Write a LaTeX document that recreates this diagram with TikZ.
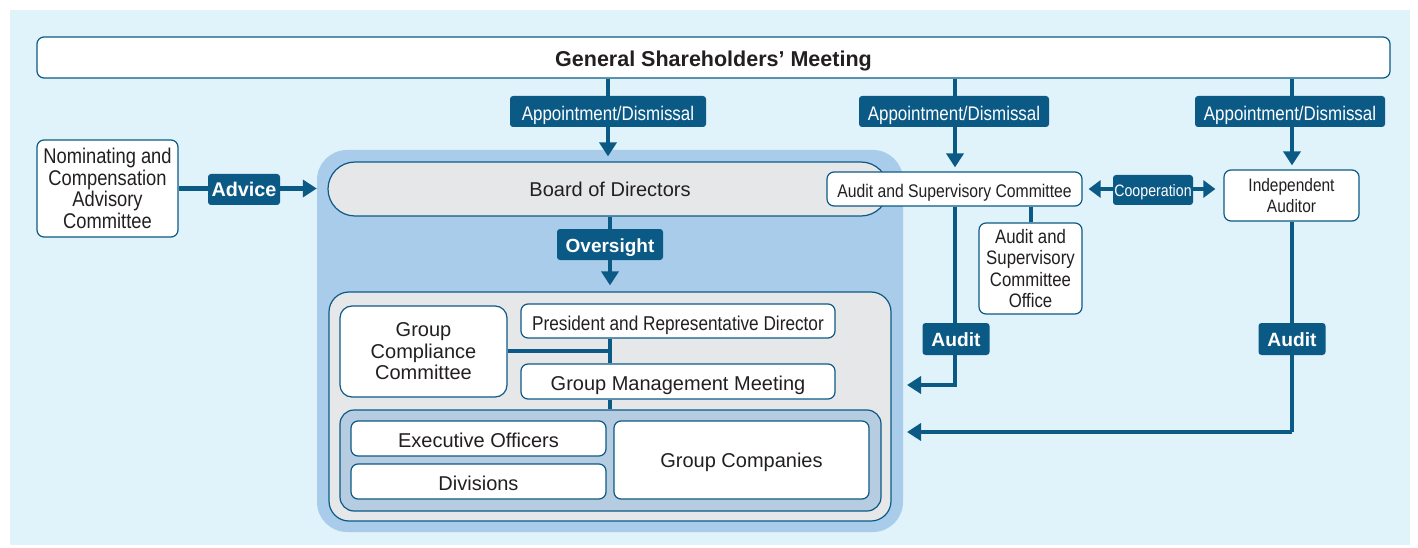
\documentclass[tikz,border=0pt]{standalone}
\usepackage{fontspec}
\setmainfont{Liberation Sans}
\newfontfamily\cond[FakeStretch=0.86]{Liberation Sans}
\usetikzlibrary{arrows.meta}
\definecolor{dblue}{HTML}{0B5A86}
\definecolor{bgblue}{HTML}{E0F2FA}
\definecolor{midblue}{HTML}{AACCEB}
\definecolor{lgray}{HTML}{E6E7E9}
\definecolor{subblue}{HTML}{B6CCE0}
\definecolor{txt}{HTML}{231F20}
\tikzset{
  box/.style={draw=dblue, line width=1.2pt, fill=white, rounded corners=7pt, inner sep=0pt, align=center, text=txt},
  one/.style={text height=#1, text depth=0pt},
  lab/.style={fill=dblue, rounded corners=3pt, inner sep=0pt, text=white, minimum height=31pt, align=center},
  conn/.style={draw=dblue, line width=4.5pt},
  arr/.style={conn, -{Triangle[width=17pt,length=14pt]}},
  darr/.style={conn, {Triangle[width=17pt,length=12pt]}-{Triangle[width=17pt,length=12pt]}},
  fr/.style={font=\fontsize{20}{21.5}\selectfont},
  fc/.style={font=\cond\fontsize{21.3}{21.5}\selectfont},
}
\begin{document}
\begin{tikzpicture}[x=1pt,y=-1pt]
\useasboundingbox (0,0) rectangle (1418,548);
\fill[bgblue] (10,10) rectangle (1410,545);
% big blue region
\node[fill=midblue, rounded corners=30pt, minimum width=586pt, minimum height=382pt, inner sep=0pt] (bigblue) at (610,341) {};
% top
\node[box, one=19pt, minimum width=1353pt, minimum height=41pt, font=\bfseries\fontsize{21.5}{24}\selectfont] (gsm) at (713.5,57.5) {General Shareholders’ Meeting};
\node[box, fc, minimum width=141pt, minimum height=97pt] (nom) at (107.5,188.5) {Nominating and\\Compensation\\Advisory\\Committee};
\node[box, fill=lgray, rounded corners=27pt, minimum width=560pt, minimum height=54pt] (board) at (608,189) {};
\node[fr, one=15.5pt, text=txt, inner sep=0pt] (boardtxt) at (610,189) {Board of Directors};
\node[box, one=16pt, font=\cond\fontsize{18.3}{21}\selectfont, minimum width=255pt, minimum height=34pt] (asc) at (954.5,189) {Audit and Supervisory Committee};
\node[box, font=\cond\fontsize{19.5}{21.3}\selectfont, minimum width=103pt, minimum height=91pt] (ascoff) at (1030.5,268.5) {Audit and\\Supervisory\\Committee\\Office};
\node[box, font=\cond\fontsize{18}{21}\selectfont, minimum width=135pt, minimum height=51pt] (ia) at (1291.5,195.5) {Independent\\Auditor};
% inner
\node[box, fill=lgray, rounded corners=20pt, minimum width=562pt, minimum height=229pt] (inner) at (610,406.5) {};
\node[box, fr, rounded corners=12pt, minimum width=167pt, minimum height=91pt] (gcc) at (423.5,351.5) {Group\\Compliance\\Committee};
\node[box, one=18pt, font=\cond\fontsize{20}{21}\selectfont, minimum width=314pt, minimum height=34pt] (pres) at (678,321) {President and Representative Director};
\node[box, one=18.5pt, fr, minimum width=314pt, minimum height=35pt] (gmm) at (678,381.5) {Group Management Meeting};
\node[box, fill=subblue, rounded corners=14pt, minimum width=541pt, minimum height=101pt] (sub) at (610.5,460.5) {};
\node[box, one=18.5pt, fr, minimum width=255pt, minimum height=35pt] (exec) at (478.5,438.5) {Executive Officers};
\node[box, one=18.5pt, fr, minimum width=255pt, minimum height=35pt] (div) at (478.5,481.5) {Divisions};
\node[box, one=14.5pt, fr, minimum width=255pt, minimum height=78pt] (gc) at (741.5,460) {Group Companies};
% connectors
\coordinate (c1) at (610,351);
\draw[conn, line width=4pt] (pres.south -| c1) -- (gmm.north -| c1);
\draw[conn, line width=4pt] (gmm.south -| c1) -- (sub.north -| c1);
\draw[conn, line width=4pt] (gcc.east |- c1) -- ([xshift=2pt]c1);
\coordinate (c2) at (1031,0);
\draw[conn, line width=4pt] (asc.south -| c2) -- (ascoff.north -| c2);
% appointment arrows
\coordinate (x1) at (608,0);
\coordinate (x2) at (955,0);
\coordinate (x3) at (1292,0);
\draw[arr, shorten >=5pt] (gsm.south -| x1) -- (board.north -| x1);
\draw[arr, shorten >=4pt] (gsm.south -| x2) -- (asc.north -| x2);
\draw[arr, shorten >=4pt] (gsm.south -| x3) -- (ia.north -| x3);
\node[lab, one=17.5pt, font=\cond\fontsize{19.7}{20}\selectfont, minimum width=196pt] (ad1) at (608,111.5) {Appointment/Dismissal};
\node[lab, one=17.5pt, font=\cond\fontsize{19.7}{20}\selectfont, minimum width=190pt] (ad2) at (954,111.5) {Appointment/Dismissal};
\node[lab, one=17.5pt, font=\cond\fontsize{19.7}{20}\selectfont, minimum width=190pt] (ad3) at (1290,111.5) {Appointment/Dismissal};
% advice
\draw[arr] (nom.east) -- (nom.east -| bigblue.west);
\node[lab, one=14.5pt, font=\bfseries\fontsize{19.8}{20}\selectfont, minimum width=72pt] (advice) at (244,189.5) {Advice};
% oversight
\coordinate (x4) at (610,0);
\draw[arr, shorten >=6pt] (board.south -| x4) -- (inner.north -| x4);
\node[lab, one=16pt, font=\bfseries\fontsize{19}{20}\selectfont, minimum width=106pt] (over) at (610,244.5) {Oversight};
% cooperation
\draw[darr, shorten <=6pt, shorten >=8pt] (asc.east) -- (ia.west |- asc.east);
\node[lab, one=13.5pt, font=\cond\fontsize{16.5}{18}\selectfont, minimum width=80pt, minimum height=30pt] (coop) at (1153,190) {Cooperation};
% audits
\coordinate (a1) at (955,385);
\coordinate (a2) at (1292,432);
\coordinate (t1) at (907,385);
\coordinate (t2) at (907,432);
\draw[conn] (asc.south -| a1) -- (a1) -- ++(-30,0);
\draw[arr] (a1) -- (t1);
\draw[conn] (ia.south -| a2) -- (a2);
\draw[arr] (a2) -- (t2);
\node[lab, one=15pt, font=\bfseries\fontsize{19.2}{20}\selectfont, minimum width=67pt, minimum height=32pt] (au1) at (956,339) {Audit};
\node[lab, one=15pt, font=\bfseries\fontsize{19.2}{20}\selectfont, minimum width=67pt, minimum height=32pt] (au2) at (1292,339) {Audit};
\end{tikzpicture}
\end{document}
